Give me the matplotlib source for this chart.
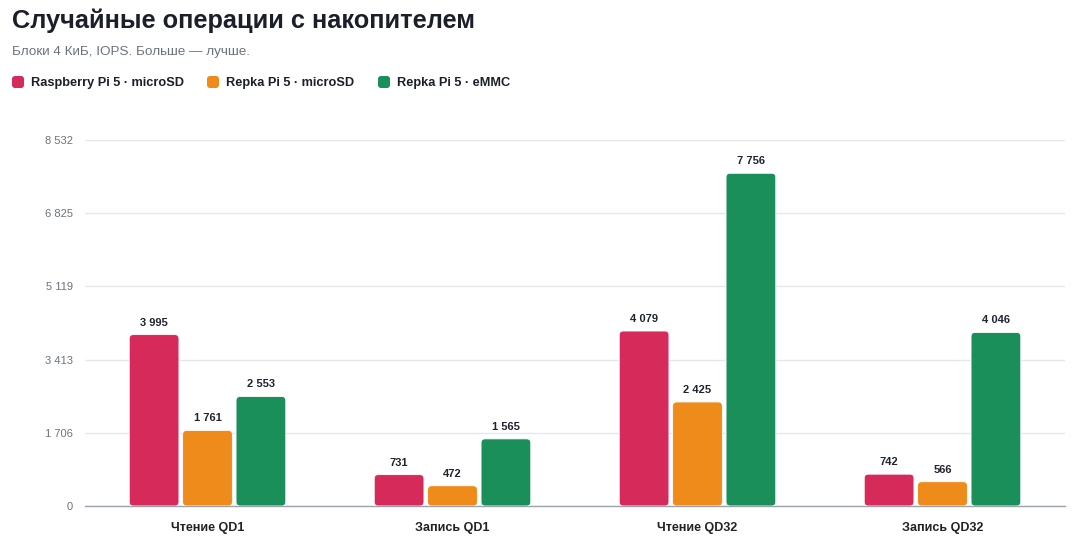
import numpy as np
import matplotlib
matplotlib.use("Agg")
import matplotlib.pyplot as plt
from matplotlib.patches import FancyBboxPatch

plt.rcParams['font.family'] = ['Liberation Sans', 'DejaVu Sans']

categories = ["Чтение QD1", "Запись QD1", "Чтение QD32", "Запись QD32"]
series_names = ["Raspberry Pi 5 · microSD", "Repka Pi 5 · microSD", "Repka Pi 5 · eMMC"]
raspberry_sd = [3995, 731, 4079, 742]
repka_sd = [1761, 472, 2425, 566]
repka_emmc = [2553, 1565, 7756, 4046]
series = [raspberry_sd, repka_sd, repka_emmc]
colors = ["#d62a5b", "#ee8b1a", "#1a8f5a"]

W, H = 1075, 542
fig = plt.figure(figsize=(W / 100, H / 100), dpi=100)
ax = fig.add_axes([85 / W, 1 - 506 / H, (1065 - 85) / W, (506 - 140) / H])

ymax = max(max(s) for s in series) * 1.1
ax.set_ylim(0, ymax)
ax.set_xlim(0, len(categories))

def fmt(v):
    return f"{int(round(v)):,}".replace(",", " ")

ticks = np.linspace(0, ymax, 6)
ax.set_yticks(ticks)
ax.set_yticklabels([fmt(t) for t in ticks])
ax.grid(axis='y', color="#e5e7eb", linewidth=1)
ax.set_axisbelow(True)
for s in ["top", "right", "left"]:
    ax.spines[s].set_visible(False)
ax.spines["bottom"].set_color("#9ca3af")
ax.spines["bottom"].set_linewidth(1)
ax.tick_params(axis='y', length=0, pad=8.6, labelsize=8, labelcolor="#6b7280")
ax.tick_params(axis='x', length=0, pad=11.5, labelsize=9)

x = np.arange(len(categories)) + 0.5
ax.set_xticks(x)
ax.set_xticklabels(categories, fontweight='bold', color="#222222")

bw = 0.203
step = 0.218
px_x = 1.0 / 245
px_y = ymax / 366
r = 4 * px_x
for i, (vals, c) in enumerate(zip(series, colors)):
    bars = ax.bar(x + (i - 1) * step, vals, width=bw, color=c, alpha=0)
    for b, v in zip(bars, vals):
        bx, by = b.get_x(), b.get_y()
        bwid, bh = b.get_width(), b.get_height()
        p = FancyBboxPatch((bx, by), bwid, bh,
                           boxstyle=f"round,pad=0,rounding_size={r}",
                           mutation_aspect=px_y / px_x,
                           facecolor=c, edgecolor="white", linewidth=0.6, zorder=3)
        ax.add_patch(p)
        ax.text(bx + bwid / 2, v + 7 * px_y, fmt(v), ha='center', va='bottom',
                fontsize=8, fontweight='bold', color="#1f2430", zorder=4)

# Title & subtitle
fig.text(12 / W, 1 - 28 / H, "Случайные операции с накопителем", fontsize=18.3,
         fontweight='bold', color="#1b1f2a", ha='left', va='baseline')
fig.text(12 / W, 1 - 55 / H, "Блоки 4 КиБ, IOPS. Больше — лучше.", fontsize=9.7,
         color="#6b7280", ha='left', va='baseline')

# Legend
lx = [12, 207, 378]
for xx, name, c in zip(lx, series_names, colors):
    sq = FancyBboxPatch((xx / W, 1 - 88 / H), 12 / W, 12 / H,
                        boxstyle=f"round,pad=0,rounding_size={3 / W}",
                        mutation_aspect=W / H,
                        transform=fig.transFigure, facecolor=c, edgecolor='none')
    fig.patches.append(sq)
    fig.text((xx + 19) / W, 1 - 86 / H, name, fontsize=9.2, fontweight='bold',
             color="#1b1f2a", ha='left', va='baseline')

fig.savefig("out.png", dpi=100, facecolor="white")
